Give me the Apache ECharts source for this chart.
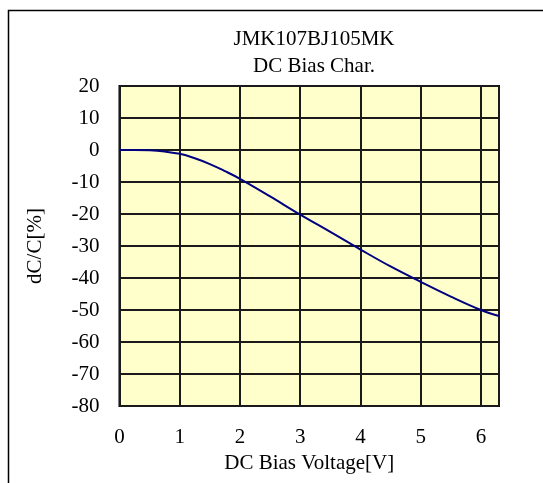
<!DOCTYPE html>
<html>
<head>
<meta charset="utf-8">
<script src="https://cdn.jsdelivr.net/npm/echarts@6/dist/echarts.min.js"></script>
<style>
  html, body { margin: 0; padding: 0; background: #fff; }
  #chart { width: 543px; height: 483px; }
</style>
</head>
<body>
<div id="chart"></div>
<script>
// DC bias curve
const voltage = [0, 0.25, 0.5, 0.75, 1, 1.25, 1.5, 1.75, 2, 2.5, 3, 3.5, 4, 4.5, 5, 5.5, 6, 6.3];
const dcPercent = [0, 0, -0.1, -0.5, -1.2, -2.6, -4.4, -6.6, -9.0, -14.5, -20.2, -25.6, -31.1, -36.4, -41.2, -45.8, -50.0, -51.9];

const titleLines = ["JMK107BJ105MK", "DC Bias Char."];
const xName = "DC Bias Voltage[V]";
const yName = "dC/C[%]";

const font = "Liberation Serif";

let myChart = echarts.init(document.getElementById("chart"));
myChart.setOption({
  animation: false,
  backgroundColor: "#fff",
  textStyle: { fontFamily: font, color: "#000" },
  title: {
    text: titleLines.join("\n"),
    left: 309,
    textAlign: "center",
    top: 21,
    textStyle: {
      fontFamily: font,
      fontWeight: "normal",
      fontSize: 21,
      lineHeight: 27,
      color: "#000"
    }
  },
  // outer frame, runs off the right and bottom edge like the original
  graphic: [{
    type: "rect",
    shape: { x: 8.5, y: 10.5, width: 700, height: 700 },
    style: { fill: "none", stroke: "#000", lineWidth: 1.5 },
    silent: true
  }],
  grid: {
    left: 119.5,
    top: 86,
    right: 44,
    bottom: 77,
    show: true,
    backgroundColor: "#FFFFCC",
    borderColor: "#000",
    borderWidth: 2
  },
  xAxis: {
    type: "value",
    min: 0,
    max: 6.3,
    interval: 1,
    name: xName,
    nameLocation: "middle",
    nameGap: 39,
    nameTextStyle: { fontFamily: font, fontSize: 21, color: "#000" },
    axisLine: { show: false },
    axisTick: { show: false },
    axisLabel: {
      fontFamily: font,
      fontSize: 21,
      color: "#000",
      margin: 21,
      formatter: function (v) { return Number.isInteger(v) ? String(v) : ""; }
    },
    splitLine: { show: true, lineStyle: { color: "#1a1a1a", width: 2 } }
  },
  yAxis: {
    type: "value",
    min: -80,
    max: 20,
    interval: 10,
    name: yName,
    nameLocation: "middle",
    nameGap: 74,
    nameRotate: 90,
    nameTextStyle: { fontFamily: font, fontSize: 21, color: "#000" },
    axisLine: { show: false },
    axisTick: { show: false },
    axisLabel: { fontFamily: font, fontSize: 21, color: "#000", margin: 20 },
    splitLine: { show: true, lineStyle: { color: "#1a1a1a", width: 2 } }
  },
  series: [{
    type: "line",
    data: voltage.map((v, i) => [v, dcPercent[i]]),
    smooth: 0.4,
    showSymbol: false,
    lineStyle: { color: "#000080", width: 2 },
    z: 3
  }]
});
</script>
</body>
</html>
